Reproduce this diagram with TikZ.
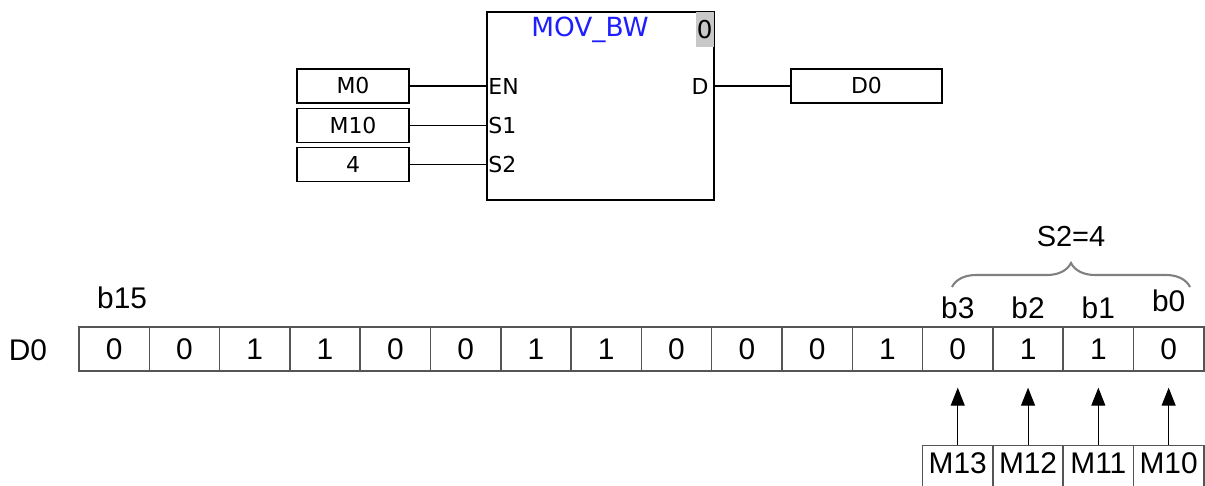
\documentclass[tikz,border=0pt]{standalone}
\usepackage{fontspec}
\setmainfont{Liberation Sans}
\newfontfamily\plcfont{DejaVu Sans}
\usetikzlibrary{arrows.meta,decorations.pathreplacing,positioning}
\definecolor{blockblue}{HTML}{1E1EFF}
\definecolor{blockgray}{HTML}{C8C8C8}
\definecolor{cellline}{HTML}{555555}
\tikzset{
  varbox/.style={
    draw,
    line width=0.8pt,
    minimum width=2.24cm,
    minimum height=0.68cm,
    inner sep=0pt,
    font=\plcfont\fontsize{12.5}{15}\selectfont
  },
  pinlabel/.style={inner sep=1pt,font=\plcfont\fontsize{12.5}{15}\selectfont},
  funcblock/.style={
    draw,
    line width=0.8pt,
    minimum width=4.54cm,
    minimum height=3.76cm,
    inner sep=0pt
  },
  bitcell/.style={
    draw=cellline,
    line width=0.8pt,
    minimum width=1.406cm,
    minimum height=0.88cm,
    inner sep=0pt,
    font=\fontsize{17}{20}\selectfont
  },
  bitlabel/.style={inner sep=0pt,font=\fontsize{17}{20}\selectfont},
  srcbox/.style={
    draw=cellline,
    line width=0.8pt,
    minimum width=1.406cm,
    text height=16pt,
    text depth=14pt,
    inner sep=0pt,
    anchor=north,
    font=\fontsize{17}{20}\selectfont
  },
  wire/.style={line width=0.8pt},
  bitarrow/.style={-{Triangle[length=0.36cm,width=0.28cm]},line width=0.6pt,shorten >=0.32cm},
  sbrace/.style={decorate,decoration={brace,amplitude=0.48cm},draw=gray,line width=1.2pt}
}

\begin{document}
\begin{tikzpicture}[x=0.02cm,y=-0.02cm]
  \clip (0,0) rectangle (1205,486);

  % function block
  \node[funcblock] (movbw) at (600.5,106) {};
  \node[font=\plcfont\fontsize{15}{18}\selectfont,text=blockblue] (fname) at (590,30) {MOV\_BW};
  \node[fill=blockgray,anchor=north east,minimum width=0.36cm,minimum height=0.7cm,inner sep=0pt,
        font=\plcfont\fontsize{14}{16}\selectfont,xshift=-0.4pt,yshift=-0.4pt] (stepno) at (movbw.north east) {0};

  \node[varbox] (m0) at (353,86) {M0};
  \node[varbox,below=0.08cm of m0] (m10) {M10};
  \node[varbox,below=0.08cm of m10] (num4) {4};

  \node[pinlabel,anchor=west] (en) at (movbw.west |- m0) {EN};
  \node[pinlabel,anchor=west] (s1) at (movbw.west |- m10) {S1};
  \node[pinlabel,anchor=west] (s2) at (movbw.west |- num4) {S2};
  \node[pinlabel,anchor=east,xshift=-0.08cm] (dpin) at (movbw.east |- m0) {D};
  \node[varbox,minimum width=3.02cm] (d0out) at (866.5,86) {D0};

  \draw[wire] (m0) -- (en);
  \draw[wire] (m10) -- (s1);
  \draw[wire] (num4) -- (s2);
  \draw[wire] (movbw.east |- dpin) -- (d0out);

  % register D0
  \node[bitlabel] (d0name) at (28,350) {D0};
  \foreach \v [count=\k from 0] in {0,0,1,1,0,0,1,1,0,0,0,1,0,1,1,0} {
    \pgfmathtruncatemacro\b{15-\k}
    \node[bitcell] (bit\b) at ({114.15+\k*70.3},349) {\v};
  }

  \node[bitlabel,above=0.34cm of bit15,xshift=0.16cm] (b15) {b15};
  \node[bitlabel,above=0.14cm of bit3] (b3) {b3};
  \node[bitlabel,above=0.14cm of bit2] (b2) {b2};
  \node[bitlabel,above=0.14cm of bit1] (b1) {b1};
  \node[bitlabel,above=0.28cm of bit0] (b0) {b0};

  \coordinate (braceL) at (952,287);
  \coordinate (braceR) at (1190,287);
  \draw[sbrace] (braceL) -- (braceR);
  \node[bitlabel,font=\fontsize{16.5}{19}\selectfont] (s2val) at (1071,237) {S2=4};

  % source bits
  \foreach \n in {3,2,1,0} {
    \node[srcbox,below=1.46cm of bit\n] (src\n) {M1\n};
    \draw[bitarrow] (src\n) -- (bit\n);
  }
\end{tikzpicture}
\end{document}
